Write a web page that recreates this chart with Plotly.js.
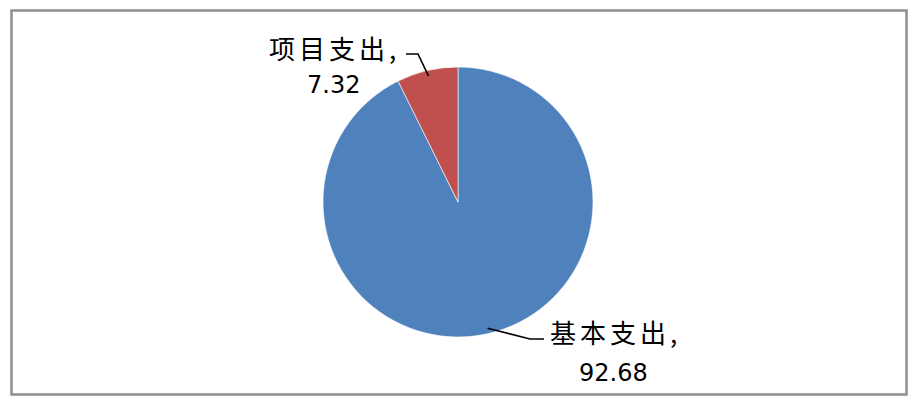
<!DOCTYPE html>
<html><head><meta charset="utf-8">
<script src="https://cdn.plot.ly/plotly-3.0.1.min.js"></script>
<style>html,body{margin:0;padding:0;background:#fff}</style>
</head><body>
<div id="chart" style="width:920px;height:407px"></div>
<script>
var categories = ["基本支出", "项目支出"];
var values = [92.68, 7.32];
var colors = ["#4F81BD", "#C0504D"];

var W = 920, H = 407;
var cx = 458, cy = 202, R = 135;
function px(x){ return x / W; }
function py(y){ return 1 - y / H; }

// label layout (pixel positions of label blocks and leader-line elbows)
var labelPos = [
  {tx: 613, tx2: 613, ty1: 331, ty2: 373, elbow: [530, 339], end: [544, 339]},
  {tx: 332, tx2: 333, ty1: 48, ty2: 85, elbow: [418, 54], end: [406, 54]}
];

var total = values.reduce(function(a,b){return a+b;}, 0);
var annotations = [], shapes = [];
var cum = 0;
values.forEach(function(v, i){
  var mid = (cum + v/2) / total * 2 * Math.PI; // clockwise from top
  cum += v;
  var ex = cx + R * 0.96 * Math.sin(mid);
  var ey = cy - R * 0.96 * Math.cos(mid);
  var L = labelPos[i];
  shapes.push({type: "path", xref: "paper", yref: "paper",
    path: "M" + px(ex) + "," + py(ey) + " L" + px(L.elbow[0]) + "," + py(L.elbow[1]) +
          " L" + px(L.end[0]) + "," + py(L.end[1]),
    line: {color: "#000", width: 1.6}});
  annotations.push({xref: "paper", yref: "paper", x: px(L.tx), y: py(L.ty1),
    xanchor: "center", yanchor: "middle", showarrow: false,
    text: categories[i] + ",",
    font: {family: "Noto Sans CJK SC, DejaVu Sans", size: 26, color: "#000"}});
  annotations.push({xref: "paper", yref: "paper", x: px(L.tx2), y: py(L.ty2),
    xanchor: "center", yanchor: "middle", showarrow: false,
    text: values[i].toFixed(2),
    font: {family: "DejaVu Sans", size: 24, color: "#000"}});
});

shapes.push({type: "rect", xref: "paper", yref: "paper",
  x0: px(11.5), y0: py(394.5), x1: px(906.5), y1: py(10.5),
  line: {color: "#8f8f8f", width: 2.5}});

var trace = {
  type: "pie",
  labels: categories,
  values: values,
  sort: false,
  direction: "clockwise",
  rotation: 0,
  textinfo: "none",
  hoverinfo: "label+value",
  marker: {colors: colors, line: {color: "#ffffff", width: 0.6}},
  domain: {x: [px(cx - R), px(cx + R)], y: [py(cy + R), py(cy - R)]}
};

Plotly.newPlot("chart", [trace], {
  width: W, height: H,
  margin: {l: 0, r: 0, t: 0, b: 0},
  showlegend: false,
  paper_bgcolor: "#fff",
  annotations: annotations,
  shapes: shapes
}, {displayModeBar: false, staticPlot: true}).then(function(gd){
  var texts = gd.querySelectorAll(".annotation-text");
  texts.forEach(function(t){
    if (/[\u4e00-\u9fff]/.test(t.textContent)) {
      t.style.letterSpacing = "4px";
      t.setAttribute("transform", "translate(2,0)");
    }
  });
});
</script>
</body></html>
